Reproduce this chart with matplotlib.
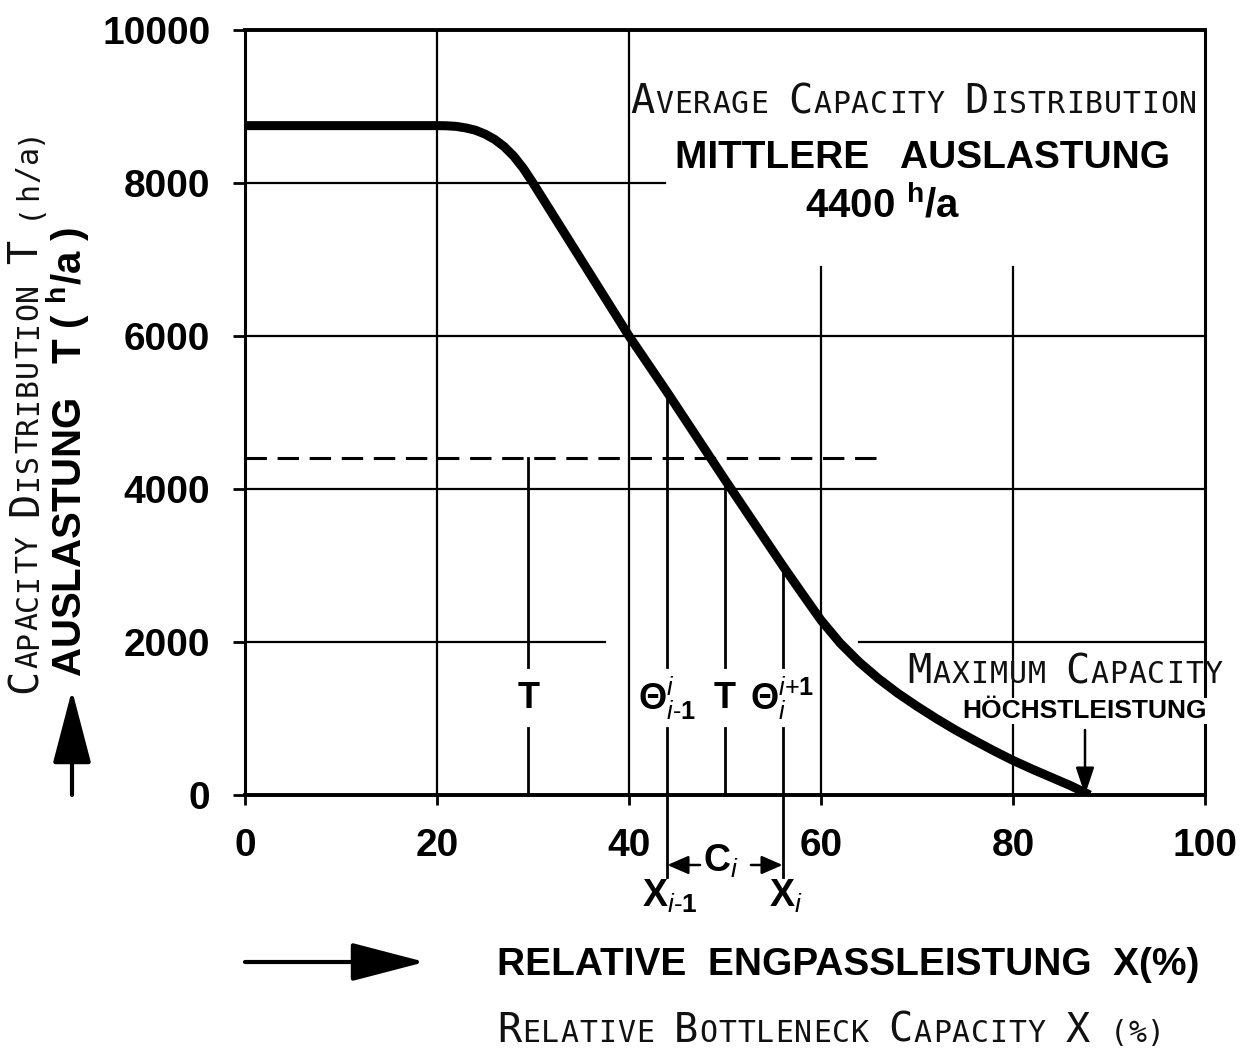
import matplotlib
matplotlib.use('Agg')
import matplotlib.pyplot as plt
from matplotlib.patches import FancyArrowPatch
from matplotlib.transforms import offset_copy

plt.rcParams['font.family'] = ['Liberation Sans', 'DejaVu Sans']
plt.rcParams['mathtext.fontset'] = 'custom'
plt.rcParams['mathtext.rm'] = 'Liberation Sans'
plt.rcParams['mathtext.it'] = 'Liberation Sans:italic'
plt.rcParams['mathtext.bf'] = 'Liberation Sans:bold'
plt.rcParams['mathtext.default'] = 'regular'

# Kennlinie: relative Engpassleistung X (%) -> Auslastung T (h/a)
x_pct = [0, 20, 21, 22, 23, 24, 25, 26, 27, 28, 29, 30, 35, 40, 44, 50, 56, 58, 60,
         62, 64, 66, 68, 70, 72, 74, 76, 78, 80, 82, 84, 86, 88]
t_hours = [8750, 8750, 8748, 8740, 8720, 8690, 8640, 8570, 8475, 8350, 8190, 8000,
           7000, 6000, 5260, 4120, 3000, 2640, 2285, 1985, 1735, 1520, 1330, 1160,
           1000, 850, 712, 578, 452, 338, 230, 122, 0]

mean_t = 4400
mean_x_end = 65.7

# Rasterlinien (Wert, von, bis)
hgrid = [(8000, 0, 43.7), (6000, 0, 100), (4000, 0, 100), (2000, 0, 37.5), (2000, 64, 100)]
vgrid = [(20, 0, 10000), (40, 0, 10000), (60, 0, 6900), (80, 0, 6900)]

# Markierungen T / Theta
mark_x = [29.5, 44, 50, 56]
mark_top = [4400, 5260, 4120, 3000]
mark_bottom = [0, -1070, 0, -1070]
mark_labels = ['T', r'$\Theta^{\mathit{i}}_{\mathit{i}\text{-}1}$', 'T',
               r'$\Theta^{\mathit{i}\text{+}1}_{\mathit{i}}$']
gap_lo, gap_hi = 870, 1670
label_y = 1260

x_ticks = [0, 20, 40, 60, 80, 100]
y_ticks = [0, 2000, 4000, 6000, 8000, 10000]

max_x = 87.5

W, H = 1244, 1051
fig = plt.figure(figsize=(W / 100, H / 100), dpi=100)
ax = fig.add_axes([245 / W, 1 - 795 / H, 960 / W, 765 / H])
ax.set_xlim(0, 100)
ax.set_ylim(0, 10000)

for sp, lw in [('top', 2.8), ('bottom', 2.8), ('left', 2.2), ('right', 2.2)]:
    ax.spines[sp].set_linewidth(lw)

ax.set_xticks(x_ticks)
ax.set_yticks(y_ticks)
ax.tick_params(axis='both', direction='out', width=2, labelsize=28)
ax.tick_params(axis='x', length=7, pad=17)
ax.tick_params(axis='y', length=9, pad=16)
for lab in ax.get_xticklabels() + ax.get_yticklabels():
    lab.set_fontweight('bold')

for y, x0, x1 in hgrid:
    ax.plot([x0, x1], [y, y], color='black', lw=1.6, zorder=2)
for x, y0, y1 in vgrid:
    ax.plot([x, x], [y0, y1], color='black', lw=1.6, zorder=2)

# mittlere Auslastung
ax.plot([0, mean_x_end], [mean_t, mean_t], color='black', lw=2.2,
        dashes=(7, 3.5), zorder=3)

ax.plot(x_pct, t_hours, color='black', lw=6.5, solid_joinstyle='round',
        solid_capstyle='butt', zorder=5)

for x, top, bot, lab in zip(mark_x, mark_top, mark_bottom, mark_labels):
    ax.plot([x, x], [top, gap_hi], color='black', lw=2, zorder=3)
    ax.plot([x, x], [gap_lo, bot], color='black', lw=2, zorder=3, clip_on=False)
    ax.text(x, label_y, lab, ha='center', va='center', fontsize=26, weight='bold',
            zorder=6)

# C_i Pfeile unter der Achse
arr = dict(arrowstyle='-|>,head_length=0.8,head_width=0.35', color='black', lw=1.8,
           shrinkA=0, shrinkB=0, mutation_scale=16)
ax.annotate('', xy=(44, -915), xytext=(47.4, -915), arrowprops=arr, annotation_clip=False)
ax.annotate('', xy=(56, -915), xytext=(52.7, -915), arrowprops=arr, annotation_clip=False)
ax.text(49.6, -870, r'C$_{\mathit{i}}$', ha='center', va='center', fontsize=27,
        weight='bold')
ax.text(44.3, -1330, r'X$_{\mathit{i}\text{-}1}$', ha='center', va='center',
        fontsize=27, weight='bold')
ax.text(56.3, -1330, r'X$_{\mathit{i}}$', ha='center', va='center', fontsize=27,
        weight='bold')


def small_caps(x, y, parts, trans, rot=0, big=29, small=21.5, track=0.7):
    # Kapitälchen aus Einzelzeichen einer Monospace-Schrift
    off = 0.0
    for text, keep in parts:
        for ch in text:
            if ch.isupper():
                size, shown = big, ch
            elif keep:
                size, shown = small, ch
            else:
                size, shown = small, ch.upper()
            dx, dy = (0, off) if rot else (off, 0)
            t = offset_copy(trans, fig=fig, x=dx, y=dy, units='points')
            fig.text(x, y, shown, transform=t, fontsize=size, family='DejaVu Sans Mono',
                     rotation=rot, rotation_mode='anchor', ha='left', va='baseline',
                     color='#111111', zorder=6)
            off += 0.602 * size + track


small_caps(40.1, 8915, [('Average Capacity Distribution', False)], ax.transData)
small_caps(69.0, 1464, [('Maximum Capacity', False)], ax.transData)
small_caps(497 / W, 1 - 1042 / H, [('Relative Bottleneck Capacity X (%)', False)],
           fig.transFigure)
small_caps(37 / W, 1 - 693 / H, [('Capacity Distribution T ', False), ('(h/a)', True)],
           fig.transFigure, rot=90)

ax.text(70.6, 8200, 'MITTLERE   AUSLASTUNG', ha='center', va='baseline', fontsize=28,
        weight='bold', zorder=6)
ax.text(58.3, 7555, r'4400 $^{h}$/a', ha='left', va='baseline', fontsize=29,
        weight='bold', zorder=6)
ax.text(max_x, 1006, 'HÖCHSTLEISTUNG', ha='center', va='baseline', fontsize=19,
        weight='bold', zorder=6,
        bbox=dict(facecolor='white', edgecolor='none', pad=1))
ax.annotate('', xy=(max_x, 0), xytext=(max_x, 850),
            arrowprops=dict(arrowstyle='-|>,head_length=1.2,head_width=0.4',
                            color='black', lw=1.8, shrinkA=0, shrinkB=0,
                            mutation_scale=14), annotation_clip=False, zorder=7)

# Achsentitel deutsch
fig.text(497 / W, 1 - 975 / H, 'RELATIVE  ENGPASSLEISTUNG  X(%)', fontsize=28,
         weight='bold', ha='left', va='baseline')
fig.text(82 / W, 1 - 677 / H, r'AUSLASTUNG   T ( $^{h}$/a )', fontsize=29,
         weight='bold', rotation=90, rotation_mode='anchor', ha='left', va='baseline')

big_arrow = dict(arrowstyle='-|>,head_length=2.3,head_width=0.6', color='black', lw=3,
                 shrinkA=0, shrinkB=0, mutation_scale=20)
fig.add_artist(FancyArrowPatch((245, H - 962), (425, H - 962), transform=None, **big_arrow))
fig.add_artist(FancyArrowPatch((72, H - 795), (72, H - 690), transform=None, **big_arrow))

fig.savefig('out.png', dpi=100, facecolor='white')
